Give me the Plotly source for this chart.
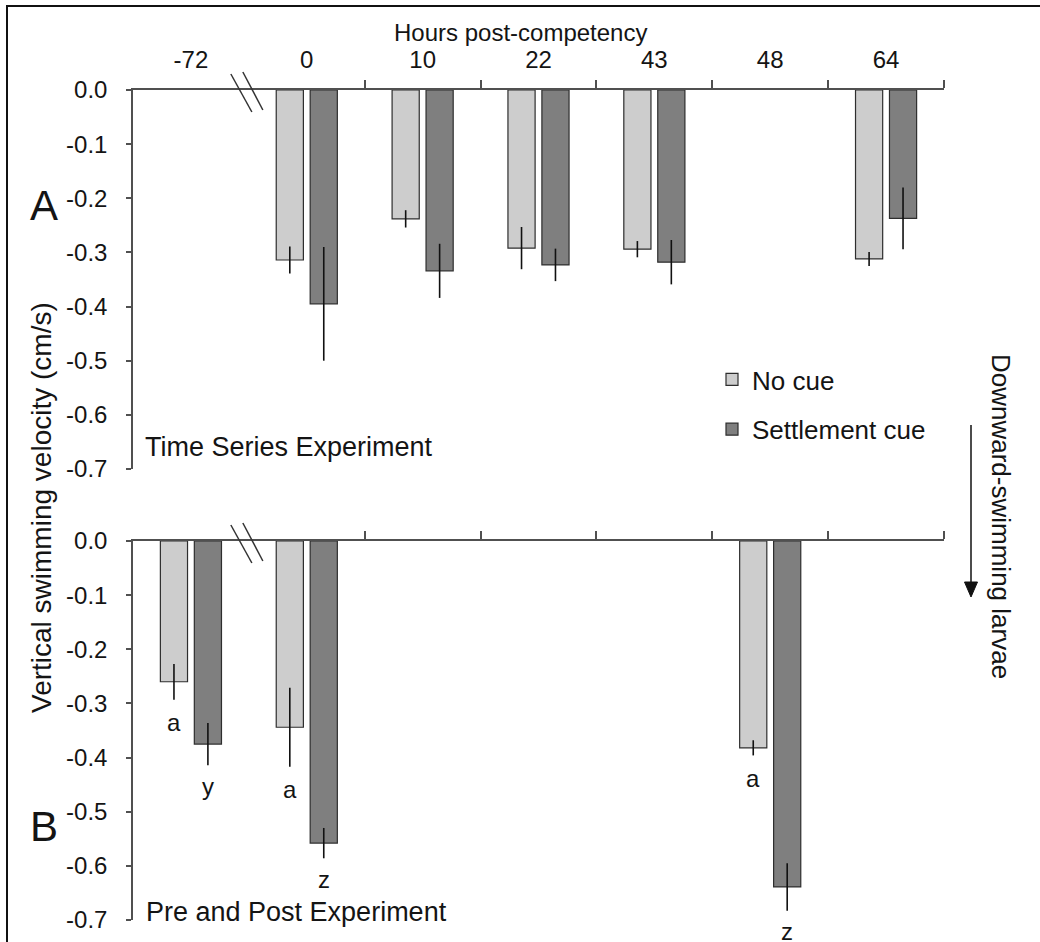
import plotly.graph_objects as go

# ---------------- data ----------------
categories = ["-72", "0", "10", "22", "43", "48", "64"]

a_hours = ["0", "10", "22", "43", "64"]
a_nocue = [-0.314, -0.238, -0.292, -0.294, -0.312]
a_nocue_err = [0.025, 0.016, 0.039, 0.015, 0.013]
a_cue = [-0.395, -0.334, -0.323, -0.318, -0.237]
a_cue_err = [0.105, 0.050, 0.030, 0.041, 0.057]

b_hours = ["-72", "0", "48"]
b_nocue = [-0.260, -0.344, -0.382]
b_nocue_err = [0.033, 0.073, 0.014]
b_cue = [-0.375, -0.558, -0.639]
b_cue_err = [0.039, 0.028, 0.044]
b_nocue_letters = ["a", "a", "a"]
b_cue_letters = ["y", "z", "z"]

y_ticks = [0.0, -0.1, -0.2, -0.3, -0.4, -0.5, -0.6, -0.7]
y_ticklabels = ["0.0", "-0.1", "-0.2", "-0.3", "-0.4", "-0.5", "-0.6", "-0.7"]

series_names = ["No cue", "Settlement cue"]
break_after = "-72"   # axis break between "-72" and "0"

# ---------------- style ----------------
W, H = 1040, 942
FONT = "Liberation Sans, Arial, sans-serif"
TXT = "#141414"
LIGHT = "#cdcdcd"
DARK = "#7f7f7f"
EDGE = "#2e2e2e"
AX = "#505050"


def px(x):
    return x / W


def py(y):
    return 1 - y / H


def pos(hours):
    return [categories.index(h) for h in hours]


fig = go.Figure()

err_style = dict(type="data", width=0, thickness=1.6, color="#111111")

# Panel A
fig.add_trace(go.Bar(x=pos(a_hours), y=a_nocue, name=series_names[0],
                     marker=dict(color=LIGHT, line=dict(color=EDGE, width=1.2)),
                     error_y=dict(array=a_nocue_err, **err_style),
                     legendgroup="n", xaxis="x", yaxis="y"))
fig.add_trace(go.Bar(x=pos(a_hours), y=a_cue, name=series_names[1],
                     marker=dict(color=DARK, line=dict(color=EDGE, width=1.2)),
                     error_y=dict(array=a_cue_err, **err_style),
                     legendgroup="c", xaxis="x", yaxis="y"))
# Panel B
fig.add_trace(go.Bar(x=pos(b_hours), y=b_nocue, name=series_names[0],
                     marker=dict(color=LIGHT, line=dict(color=EDGE, width=1.2)),
                     error_y=dict(array=b_nocue_err, **err_style),
                     legendgroup="n", showlegend=False, xaxis="x2", yaxis="y2"))
fig.add_trace(go.Bar(x=pos(b_hours), y=b_cue, name=series_names[1],
                     marker=dict(color=DARK, line=dict(color=EDGE, width=1.2)),
                     error_y=dict(array=b_cue_err, **err_style),
                     legendgroup="c", showlegend=False, xaxis="x2", yaxis="y2"))

# significance letters
for h, v, e, l in zip(b_hours, b_nocue, b_nocue_err, b_nocue_letters):
    fig.add_annotation(x=categories.index(h), y=v - e, xref="x2", yref="y2", text=l,
                       showarrow=False, xshift=-17, yshift=-23, yanchor="middle",
                       font=dict(family=FONT, size=24, color=TXT))
for h, v, e, l in zip(b_hours, b_cue, b_cue_err, b_cue_letters):
    fig.add_annotation(x=categories.index(h), y=v - e, xref="x2", yref="y2", text=l,
                       showarrow=False, xshift=17, yshift=-21, yanchor="middle",
                       font=dict(family=FONT, size=24, color=TXT))

boundaries = [i + 0.5 for i in range(1, len(categories))]

xcommon = dict(
    domain=[px(133), px(944)], range=[-0.5, len(categories) - 0.5],
    side="top", tickmode="array", tickvals=list(range(len(categories))),
    ticktext=categories, ticks="outside", ticklen=0, tickcolor=AX,
    showline=True, linecolor=AX, linewidth=1.5, showgrid=False, zeroline=False,
    tickfont=dict(family=FONT, size=24, color=TXT), ticklabelstandoff=11,
    automargin=False,
    minor=dict(tickmode="array", tickvals=boundaries, ticks="outside", ticklen=8,
               tickcolor=AX, tickwidth=1.5, showgrid=False),
)
ycommon = dict(
    range=[-0.7, 0], tickmode="array", tickvals=y_ticks, ticktext=y_ticklabels,
    ticks="outside", ticklen=5, tickcolor=AX, tickwidth=1.5,
    showline=True, linecolor=AX, linewidth=1.5, showgrid=False, zeroline=False,
    tickfont=dict(family=FONT, size=24, color=TXT), ticklabelstandoff=14,
    automargin=False,
)

fig.update_layout(
    width=W, height=H, margin=dict(l=0, r=0, t=0, b=0, autoexpand=False),
    paper_bgcolor="white", plot_bgcolor="white",
    barmode="group", bargap=0.414, bargroupgap=0.2,
    font=dict(family=FONT, color=TXT),
    xaxis=dict(anchor="y", **xcommon),
    yaxis=dict(anchor="x", domain=[py(469), py(90)], **ycommon),
    xaxis2=dict(anchor="y2", showticklabels=False, **xcommon),
    yaxis2=dict(anchor="x2", domain=[py(920), py(541)], **ycommon),
    legend=dict(x=px(712), y=py(356), xanchor="left", yanchor="top",
                font=dict(family=FONT, size=26, color=TXT),
                bgcolor="rgba(0,0,0,0)", tracegroupgap=13, traceorder="grouped"),
    showlegend=True,
)

# axis break marks (in axis-domain coordinates so they are not clipped)
brk = (categories.index(break_after) + 1) / len(categories)
for xa, ya in (("x", "y"), ("x2", "y2")):
    for (x0, y0, x1, y1) in ((-18, 16, 3, -22), (-6, 18, 14, -20)):
        fig.add_shape(type="line", xref=f"{xa} domain", yref=f"{ya} domain",
                      xsizemode="pixel", ysizemode="pixel", xanchor=brk, yanchor=1,
                      x0=x0, y0=y0, x1=x1, y1=y1,
                      line=dict(color="#333333", width=1.5))


# text labels
def txt(x, y, s, size, angle=0, xanchor="center"):
    fig.add_annotation(x=px(x), y=py(y), xref="paper", yref="paper", text=s,
                       showarrow=False, textangle=angle, xanchor=xanchor, yanchor="middle",
                       font=dict(family=FONT, size=size, color=TXT))


txt(520, 33, "Hours post-competency", 24)
txt(44, 206, "A", 42)
txt(44, 826, "B", 42)
txt(143, 447, "Time Series Experiment", 27, xanchor="left")
txt(144, 912, "Pre and Post Experiment", 27, xanchor="left")
txt(41, 508, "Vertical swimming velocity (cm/s)", 28, angle=-90)
txt(1001, 516, "Downward-swimming larvae", 26, angle=90)

# downward arrow
fig.add_shape(type="line", xref="paper", yref="paper", x0=px(971), x1=px(971),
              y0=py(425), y1=py(586), line=dict(color="#111111", width=1.5))
fig.add_shape(type="path", xref="paper", yref="paper",
              path=f"M {px(964.5)} {py(582)} L {px(977.5)} {py(582)} L {px(971)} {py(597)} Z",
              fillcolor="#111111", line=dict(color="#111111", width=1))

# outer frame
fig.add_shape(type="rect", xref="paper", yref="paper", x0=px(7), x1=px(1050),
              y0=py(960), y1=py(6), line=dict(color="#111111", width=2))

fig.write_html("out.html", config={"displayModeBar": False},
               post_script="document.body.style.margin='0';document.body.style.padding='0';")
